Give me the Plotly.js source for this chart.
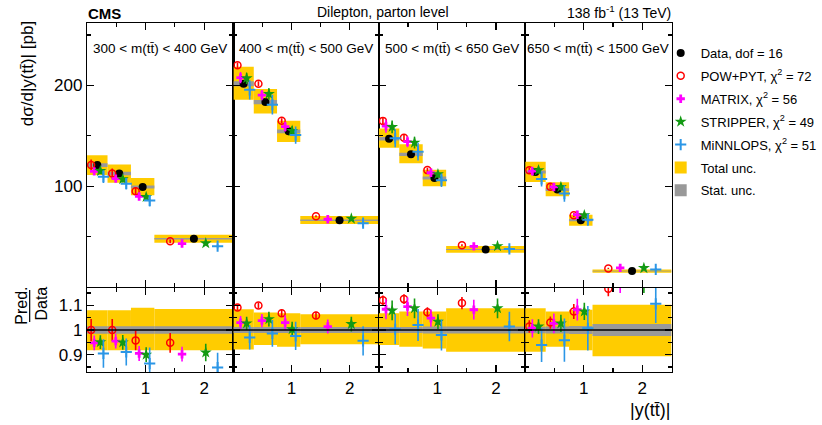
<!DOCTYPE html>
<html>
<head>
<meta charset="utf-8">
<script src="https://cdn.plot.ly/plotly-3.0.1.min.js"></script>
<style>
  body { margin: 0; background: white; }
  #chart { width: 822px; height: 425px; }
</style>
</head>
<body>
<div id="chart"></div>
<script>
// bins in |y(tt)| and the four m(tt) slices
var binEdges = [ 0, 0.35, 0.75, 1.15, 2.5 ];
var massLabels = [ '300 < m(tt̄) < 400 GeV', '400 < m(tt̄) < 500 GeV', '500 < m(tt̄) < 650 GeV', '650 < m(tt̄) < 1500 GeV' ];

// measured cross sections [pb], one row per mass slice
var dataVals = [
    [ 121.0, 112.6, 99.3, 47.8 ],
    [ 201.7, 183.5, 154.5, 66.3 ],
    [ 147.2, 131.7, 108.2, 37.3 ],
    [ 114.2, 96.7, 66.3, 15.8 ]
];

// relative uncertainties of the data
var totUp = [
    [ 0.080, 0.080, 0.090, 0.085 ],
    [ 0.084, 0.071, 0.068, 0.064 ],
    [ 0.068, 0.075, 0.075, 0.088 ],
    [ 0.088, 0.075, 0.082, 0.102 ]
];
var totDown = [
    [ 0.082, 0.082, 0.082, 0.082 ],
    [ 0.079, 0.061, 0.068, 0.058 ],
    [ 0.061, 0.068, 0.075, 0.088 ],
    [ 0.088, 0.068, 0.082, 0.106 ]
];
var statUnc = [
    [ 0.015, 0.015, 0.015, 0.015 ],
    [ 0.012, 0.012, 0.012, 0.012 ],
    [ 0.012, 0.012, 0.014, 0.014 ],
    [ 0.013, 0.014, 0.016, 0.024 ]
];

// prediction / data ratios and their relative uncertainties
var powRatio = [
    [ 1.000, 1.000, 0.958, 0.948 ],
    [ 1.091, 1.099, 1.068, 1.059 ],
    [ 1.120, 1.125, 1.072, 1.109 ],
    [ 1.014, 1.030, 1.075, 1.167 ]
];
var powErr = [
    [ 0.045, 0.045, 0.040, 0.040 ],
    [ 0.012, 0.012, 0.015, 0.015 ],
    [ 0.020, 0.020, 0.020, 0.025 ],
    [ 0.025, 0.025, 0.030, 0.030 ]
];
var matrixRatio = [
    [ 0.948, 0.955, 0.905, 0.902 ],
    [ 1.030, 1.038, 1.030, 1.014 ],
    [ 1.084, 1.095, 1.048, 1.082 ],
    [ 1.007, 1.027, 1.082, 1.200 ]
];
var matrixErr = [
    [ 0.030, 0.030, 0.030, 0.030 ],
    [ 0.027, 0.027, 0.030, 0.028 ],
    [ 0.040, 0.038, 0.035, 0.040 ],
    [ 0.037, 0.040, 0.044, 0.050 ]
];
var stripperRatio = [
    [ 0.951, 0.950, 0.900, 0.909 ],
    [ 1.027, 1.044, 1.003, 1.024 ],
    [ 1.079, 1.088, 1.034, 1.088 ],
    [ 1.014, 1.027, 1.075, 1.190 ]
];
var stripperErr = [
    [ 0.028, 0.030, 0.030, 0.035 ],
    [ 0.027, 0.030, 0.030, 0.030 ],
    [ 0.040, 0.040, 0.030, 0.040 ],
    [ 0.030, 0.035, 0.035, 0.040 ]
];
var minnloRatio = [
    [ 0.905, 0.911, 0.864, 0.848 ],
    [ 0.970, 0.986, 0.976, 0.956 ],
    [ 1.003, 1.020, 0.980, 1.014 ],
    [ 0.939, 0.959, 1.007, 1.106 ]
];
var minnloErr = [
    [ 0.058, 0.055, 0.065, 0.060 ],
    [ 0.049, 0.054, 0.057, 0.059 ],
    [ 0.061, 0.065, 0.063, 0.060 ],
    [ 0.069, 0.088, 0.090, 0.078 ]
];

var W = 822, H = 425;
var FONT = 'Liberation Sans, Arial, Helvetica, sans-serif';
var panelEdges = [ 88, 236, 383, 531, 679 ];   // pixels
var topPx = [ 23, 287 ], ratioPx = [ 288, 372 ];

function fx( p ) { return p / W; }
function fy( p ) { return 1 - p / H; }

var centres = [], widths = [];
for ( var b = 0; b < binEdges.length - 1; ++b ) {
    centres.push( ( binEdges[ b ] + binEdges[ b + 1 ] ) / 2 );
    widths.push( binEdges[ b + 1 ] - binEdges[ b ] );
}

var models = [
    { name: 'POW+PYT, χ<sup>2</sup> = 72', ratio: powRatio, err: powErr, shift: -0.30, rank: 2,
      marker: { symbol: 'circle-open', size: 7, color: '#ff0000', line: { width: 1.5, color: '#ff0000' } }, col: '#ff0000' },
    { name: 'MATRIX, χ<sup>2</sup> = 56', ratio: matrixRatio, err: matrixErr, shift: -0.15, rank: 3,
      marker: { symbol: 'cross', size: 7, color: '#ff00ff' }, col: '#ff00ff' },
    { name: 'STRIPPER, χ<sup>2</sup> = 49', ratio: stripperRatio, err: stripperErr, shift: 0.15, rank: 4,
      marker: { symbol: 'star', size: 9, color: '#139a13' }, col: '#139a13' },
    { name: 'MiNNLOPS, χ<sup>2</sup> = 51', ratio: minnloRatio, err: minnloErr, shift: 0.30, rank: 5,
      marker: { symbol: 'cross-thin-open', size: 8, color: '#2b96e6', line: { width: 2, color: '#2b96e6' } }, col: '#2b96e6' }
];

var traces = [];
var layout = {
    width: W, height: H,
    margin: { l: 0, r: 0, t: 0, b: 0 },
    paper_bgcolor: 'white', plot_bgcolor: 'white',
    font: { family: FONT, color: 'black', size: 16 },
    barmode: 'overlay',
    showlegend: true,
    legend: {
        x: fx( 668 ), xanchor: 'left', y: fy( 38 ), yanchor: 'top',
        bgcolor: 'rgba(0,0,0,0)', font: { size: 13, family: FONT },
        tracegroupgap: 3, itemwidth: 30
    },
    annotations: [],
    shapes: []
};

var axisBase = {
    showline: true, linecolor: 'black', linewidth: 1.2, mirror: 'allticks',
    ticks: 'inside', ticklen: 7, tickwidth: 1.2, tickcolor: 'black',
    zeroline: false, showgrid: false, fixedrange: true
};

for ( var p = 0; p < 4; ++p ) {

    var nTop = p + 1, nRat = p + 5;
    var xTop = 'x' + ( nTop === 1 ? '' : nTop ), yTop = 'y' + ( nTop === 1 ? '' : nTop );
    var xRat = 'x' + nRat, yRat = 'y' + nRat;
    var dom = [ fx( panelEdges[ p ] ), fx( panelEdges[ p + 1 ] ) ];

    layout[ 'xaxis' + ( nTop === 1 ? '' : nTop ) ] = Object.assign( {}, axisBase, {
        domain: dom, anchor: yTop, range: [ 0, 2.5 ], tickvals: [ 1, 2 ], showticklabels: false,
        minor: { tickvals: [ 0.5, 1.5 ], ticklen: 4, ticks: 'inside', tickcolor: 'black' }
    });
    layout[ 'yaxis' + ( nTop === 1 ? '' : nTop ) ] = Object.assign( {}, axisBase, {
        domain: [ fy( topPx[ 1 ] ), fy( topPx[ 0 ] ) ], anchor: xTop, range: [ 0, 262 ],
        tickvals: [ 100, 200 ], showticklabels: p === 0, tickfont: { size: 17 },
        minor: { tickvals: [ 50, 150, 250 ], ticklen: 4, ticks: 'inside', tickcolor: 'black' }
    });
    layout[ 'xaxis' + nRat ] = Object.assign( {}, axisBase, {
        domain: dom, anchor: yRat, range: [ 0, 2.5 ], tickvals: [ 1, 2 ], showticklabels: true,
        tickfont: { size: 17 },
        minor: { tickvals: [ 0.5, 1.5 ], ticklen: 4, ticks: 'inside', tickcolor: 'black' }
    });
    layout[ 'yaxis' + nRat ] = Object.assign( {}, axisBase, {
        domain: [ fy( ratioPx[ 1 ] ), fy( ratioPx[ 0 ] ) ], anchor: xRat, range: [ 0.83, 1.17 ],
        tickvals: [ 0.9, 1, 1.1 ], ticktext: [ '0.9', '1', '1.1' ], showticklabels: p === 0,
        tickfont: { size: 17 },
        minor: { tickvals: [ 0.85, 0.95, 1.05, 1.15 ], ticklen: 4, ticks: 'inside', tickcolor: 'black' }
    });

    var d = dataVals[ p ];
    var tu = totUp[ p ], td = totDown[ p ], st = statUnc[ p ];

    // total uncertainty boxes
    traces.push({
        type: 'bar', x: centres, width: widths, xaxis: xTop, yaxis: yTop,
        base: d.map( function( v, i ) { return v * ( 1 - td[ i ] ); } ),
        y: d.map( function( v, i ) { return v * ( tu[ i ] + td[ i ] ); } ),
        marker: { color: '#ffcc00', line: { width: 0 } },
        name: 'Total unc.', legendgroup: 'tot', legendrank: 6, showlegend: p === 0, hoverinfo: 'skip'
    });
    traces.push({
        type: 'bar', x: centres, width: widths, xaxis: xRat, yaxis: yRat,
        base: td.map( function( v ) { return 1 - v; } ),
        y: tu.map( function( v, i ) { return v + td[ i ]; } ),
        marker: { color: '#ffcc00', line: { width: 0 } },
        legendgroup: 'tot', showlegend: false, hoverinfo: 'skip'
    });
    // stat uncertainty bands
    traces.push({
        type: 'bar', x: centres, width: widths, xaxis: xTop, yaxis: yTop,
        base: d.map( function( v, i ) { return v * ( 1 - st[ i ] ); } ),
        y: d.map( function( v, i ) { return v * 2 * st[ i ]; } ),
        marker: { color: '#999999', line: { width: 0 } },
        name: 'Stat. unc.', legendgroup: 'stat', legendrank: 7, showlegend: p === 0, hoverinfo: 'skip'
    });
    traces.push({
        type: 'bar', x: centres, width: widths, xaxis: xRat, yaxis: yRat,
        base: st.map( function( v ) { return 1 - v; } ),
        y: st.map( function( v ) { return 2 * v; } ),
        marker: { color: '#999999', line: { width: 0 } },
        legendgroup: 'stat', showlegend: false, hoverinfo: 'skip'
    });

    // line at ratio 1
    layout.shapes.push({
        type: 'line', xref: xRat + ' domain', yref: yRat, x0: 0, x1: 1, y0: 1, y1: 1,
        line: { color: 'black', width: 1.5 }
    });

    // data points
    traces.push({
        type: 'scatter', mode: 'markers', x: centres, y: d, xaxis: xTop, yaxis: yTop,
        marker: { symbol: 'circle', size: 8, color: 'black' },
        name: 'Data, dof = 16', legendgroup: 'data', legendrank: 1, showlegend: p === 0
    });

    // predictions
    models.forEach( function( m ) {
        var xs = centres.map( function( c, i ) { return c + m.shift * widths[ i ]; } );
        var r = m.ratio[ p ], e = m.err[ p ];
        var pred = r.map( function( v, i ) { return v * d[ i ]; } );
        traces.push({
            type: 'scatter', mode: 'markers', x: xs, y: pred, xaxis: xTop, yaxis: yTop,
            marker: m.marker,
            error_y: { type: 'data', array: pred.map( function( v, i ) { return v * e[ i ]; } ),
                       color: m.col, thickness: 1.6, width: 0 },
            name: m.name, legendgroup: m.name, legendrank: m.rank, showlegend: p === 0
        });
        traces.push({
            type: 'scatter', mode: 'markers', x: xs, y: r, xaxis: xRat, yaxis: yRat,
            marker: m.marker,
            error_y: { type: 'data', array: e, color: m.col, thickness: 1.6, width: 0 },
            legendgroup: m.name, showlegend: false
        });
    });

    layout.annotations.push({
        xref: 'paper', yref: 'paper', x: ( dom[ 0 ] + dom[ 1 ] ) / 2, y: fy( 49 ),
        text: massLabels[ p ], showarrow: false, xanchor: 'center', yanchor: 'middle',
        font: { size: 13.5, family: FONT }
    });
}

// header texts and axis titles
layout.annotations.push(
    { xref: 'paper', yref: 'paper', x: fx( 87 ), y: fy( 13 ), text: '<b>CMS</b>', showarrow: false,
      xanchor: 'left', yanchor: 'middle', font: { size: 15, family: FONT } },
    { xref: 'paper', yref: 'paper', x: fx( 387 ), y: fy( 12 ), text: 'Dilepton, parton level', showarrow: false,
      xanchor: 'center', yanchor: 'middle', font: { size: 14, family: FONT } },
    { xref: 'paper', yref: 'paper', x: fx( 680 ), y: fy( 12 ), text: '138 fb<sup>-1</sup> (13 TeV)', showarrow: false,
      xanchor: 'right', yanchor: 'middle', font: { size: 14, family: FONT } },
    { xref: 'paper', yref: 'paper', x: fx( 28 ), y: fy( 19 ), text: 'dσ/d|y(tt̄)| [pb]', showarrow: false,
      textangle: -90, xanchor: 'center', yanchor: 'top', font: { size: 17, family: FONT } },
    { xref: 'paper', yref: 'paper', x: fx( 21 ), y: fy( 306 ), text: 'Pred.', showarrow: false,
      textangle: -90, xanchor: 'center', yanchor: 'middle', font: { size: 16, family: FONT } },
    { xref: 'paper', yref: 'paper', x: fx( 41 ), y: fy( 304 ), text: 'Data', showarrow: false,
      textangle: -90, xanchor: 'center', yanchor: 'middle', font: { size: 16, family: FONT } },
    { xref: 'paper', yref: 'paper', x: fx( 679 ), y: fy( 410 ), text: '|y(tt̄)|', showarrow: false,
      xanchor: 'right', yanchor: 'middle', font: { size: 18, family: FONT } }
);
layout.shapes.push({
    type: 'line', xref: 'paper', yref: 'paper', x0: fx( 30 ), x1: fx( 30 ), y0: fy( 290 ), y1: fy( 322 ),
    line: { color: 'black', width: 1.2 }
});

Plotly.newPlot( 'chart', traces, layout, { staticPlot: true, displayModeBar: false } );
</script>
</body>
</html>
